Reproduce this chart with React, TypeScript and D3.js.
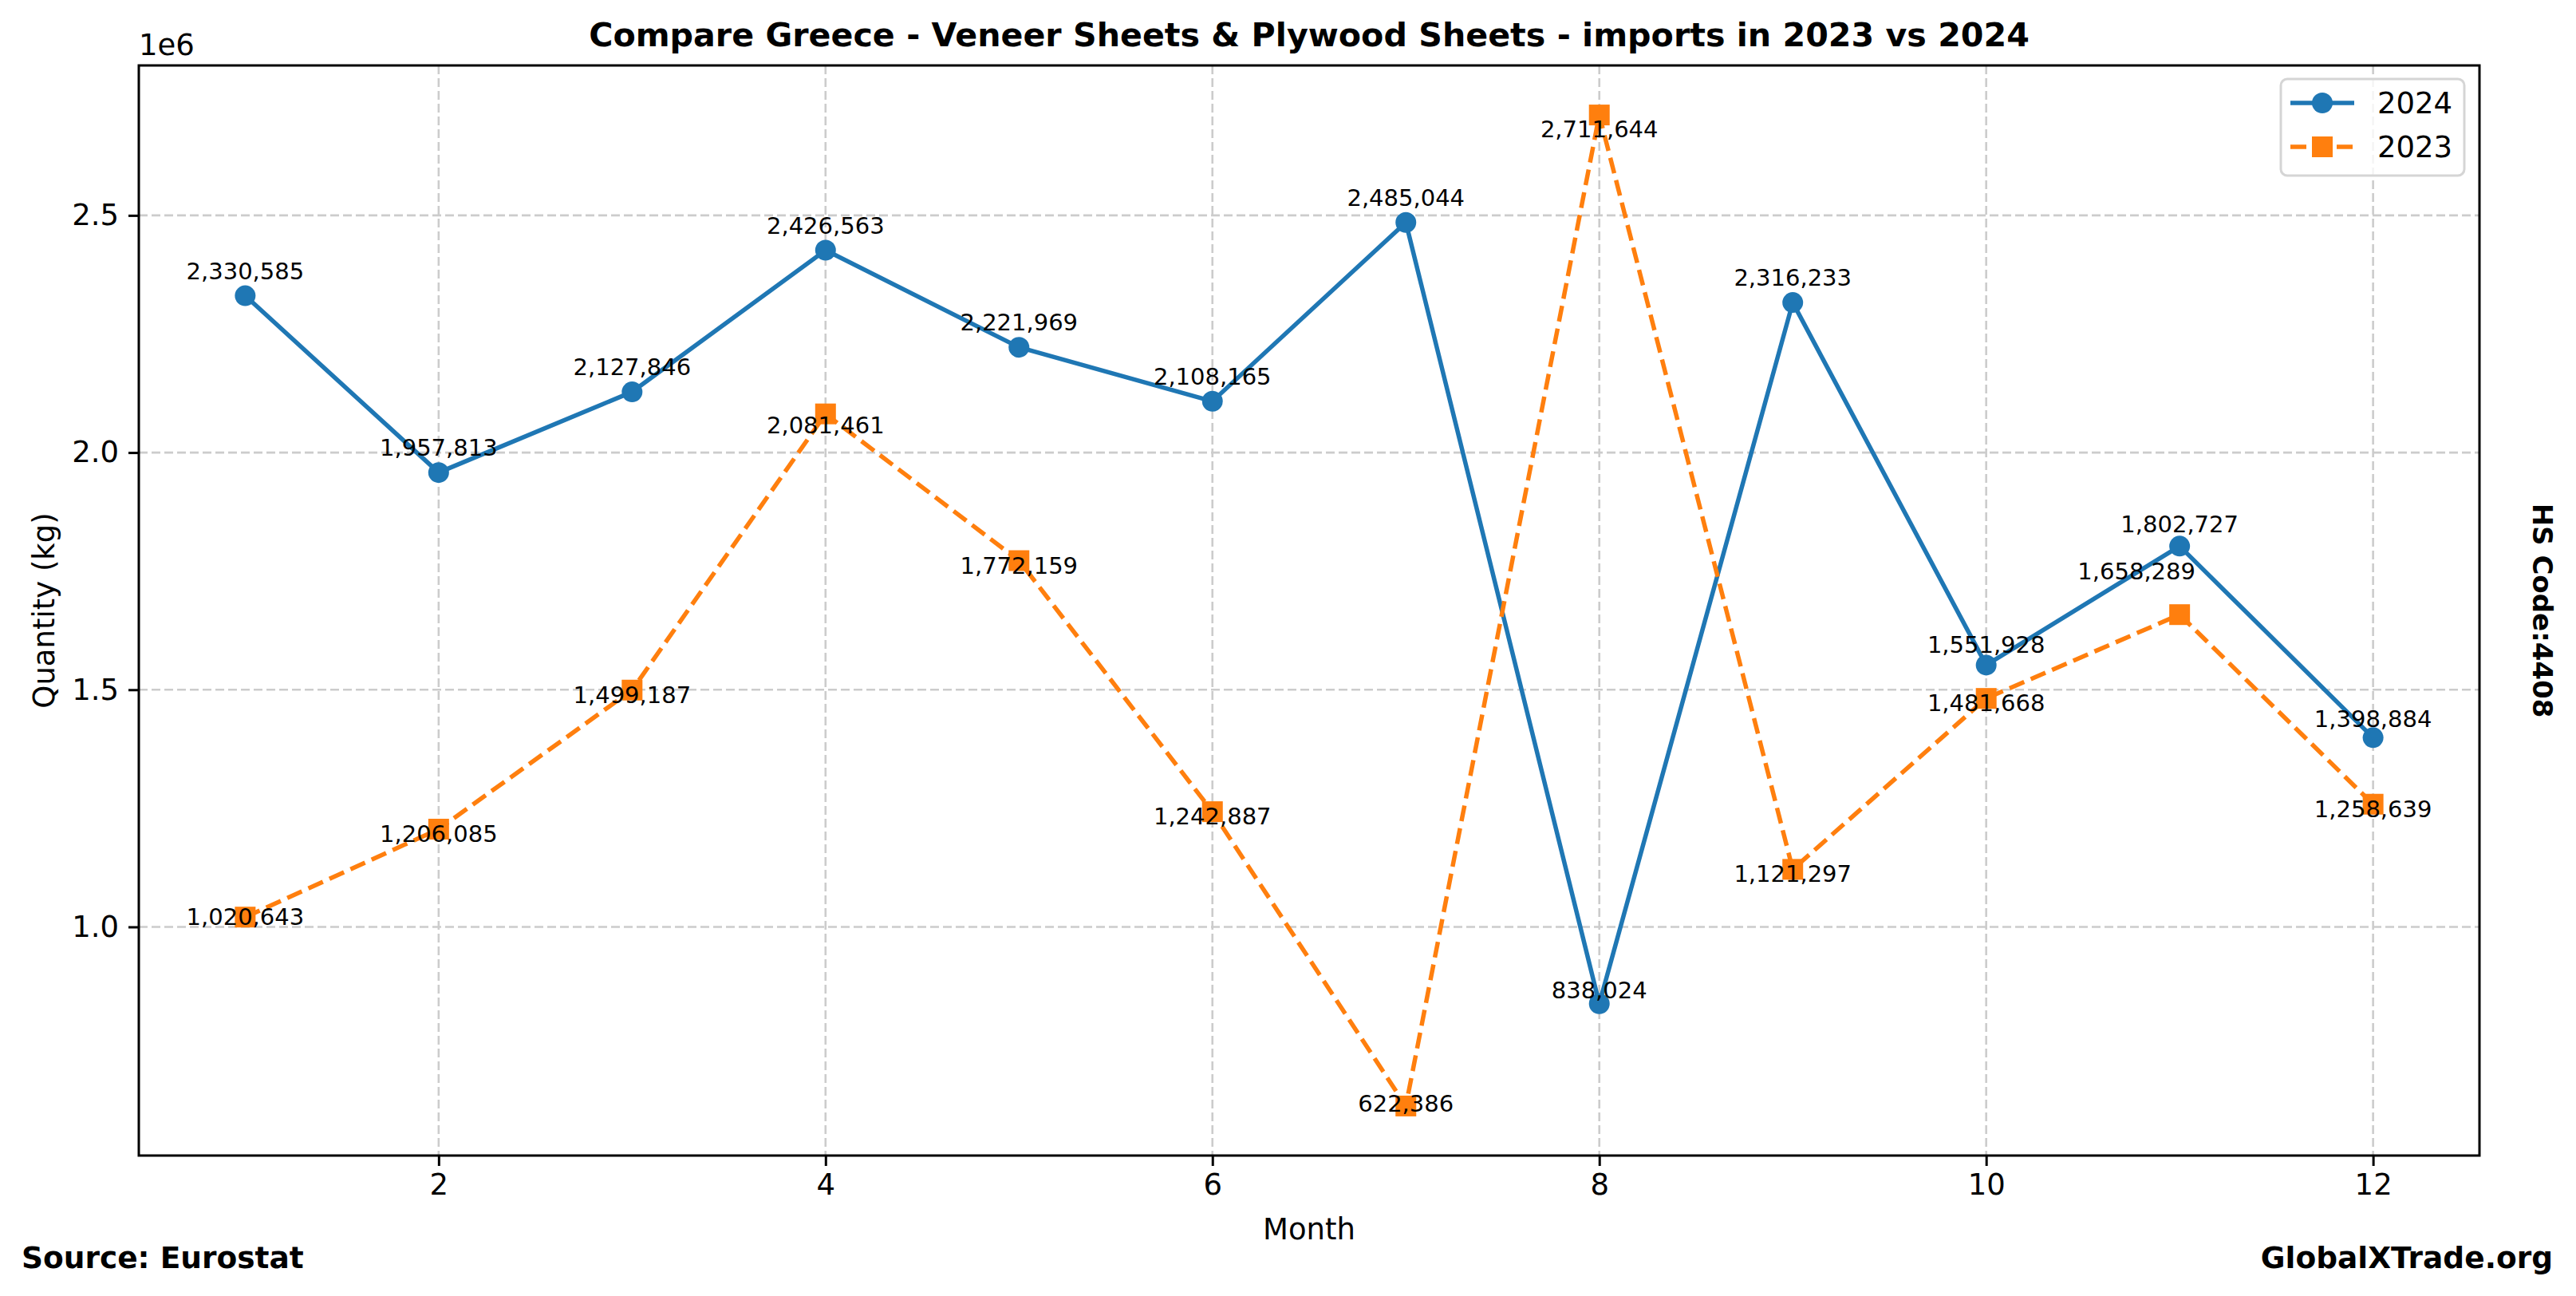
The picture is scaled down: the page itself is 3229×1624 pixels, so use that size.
import React, { useEffect, useRef } from 'react'
import * as d3 from 'd3'

// values
const months = [1, 2, 3, 4, 5, 6, 7, 8, 9, 10, 11, 12]
const values2024 = [2330585, 1957813, 2127846, 2426563, 2221969, 2108165, 2485044, 838024, 2316233, 1551928, 1802727, 1398884]
const values2023 = [1020643, 1206085, 1499187, 2081461, 1772159, 1242887, 622386, 2711644, 1121297, 1481668, 1658289, 1258639]
const xTicks = [2, 4, 6, 8, 10, 12]
const yTicks = [1.0e6, 1.5e6, 2.0e6, 2.5e6]

const W = 3229
const H = 1624
const FONT = "'DejaVu Sans', sans-serif"
const BLUE = '#1f77b4'
const ORANGE = '#ff7f0e'

// small label shifts (the original labels were pushed around a bit)
const nudges: Record<string, [number, number]> = {
  '2024-8': [0, 14],
  '2024-10': [0, 6],
  '2024-11': [0, 4],
  '2024-12': [0, 8],
  '2023-1': [0, -6],
  '2023-4': [0, 8],
  '2023-7': [0, -9],
  '2023-8': [0, 12],
  '2023-11': [-54, -60],
}

const App = () => {
  const ref = useRef<SVGSVGElement>(null)

  useEffect(() => {
    const svg = d3.select(ref.current)
    svg.selectAll('*').remove()

    const margin = { top: 82, right: W - 3108, bottom: H - 1448, left: 174 }

    const xPad = (d3.max(months)! - d3.min(months)!) * 0.05
    const x = d3.scaleLinear()
      .domain([d3.min(months)! - xPad, d3.max(months)! + xPad])
      .range([margin.left, W - margin.right])

    const all = values2024.concat(values2023)
    const yPad = (d3.max(all)! - d3.min(all)!) * 0.05
    const y = d3.scaleLinear()
      .domain([d3.min(all)! - yPad, d3.max(all)! + yPad])
      .range([H - margin.bottom, margin.top])

    svg.append('rect').attr('width', W).attr('height', H).attr('fill', 'white')

    // grid
    const grid = svg.append('g')
    grid.selectAll('.gx').data(xTicks).enter().append('line')
      .attr('x1', d => x(d)).attr('x2', d => x(d))
      .attr('y1', margin.top).attr('y2', H - margin.bottom)
    grid.selectAll('.gy').data(yTicks).enter().append('line')
      .attr('y1', d => y(d)).attr('y2', d => y(d))
      .attr('x1', margin.left).attr('x2', W - margin.right)
    grid.selectAll('line')
      .attr('stroke', '#cccccc')
      .attr('stroke-width', 2.6)
      .attr('stroke-dasharray', '11,5')

    // axes
    const xAxis = d3.axisBottom(x).tickValues(xTicks).tickSize(13).tickPadding(10).tickFormat(d3.format('d'))
    const yAxis = d3.axisLeft(y).tickValues(yTicks).tickSize(13).tickPadding(12).tickFormat(d => d3.format('.1f')(+d / 1e6))

    const gx = svg.append('g')
      .attr('transform', `translate(0,${H - margin.bottom})`)
      .call(xAxis)
    const gy = svg.append('g')
      .attr('transform', `translate(${margin.left},0)`)
      .call(yAxis)
    for (const g of [gx, gy]) {
      g.select('.domain').remove()
      g.selectAll('line').attr('stroke', 'black').attr('stroke-width', 3)
      g.selectAll('text').attr('font-family', FONT).attr('font-size', 37).attr('fill', 'black')
    }

    // series
    const line = d3.line<number>()
      .x((_, i) => x(months[i]))
      .y(d => y(d))

    svg.append('path')
      .datum(values2024)
      .attr('d', line)
      .attr('fill', 'none')
      .attr('stroke', BLUE)
      .attr('stroke-width', 5.5)
      .attr('stroke-linejoin', 'round')
    svg.selectAll('.dot24').data(values2024).enter().append('circle')
      .attr('cx', (_, i) => x(months[i]))
      .attr('cy', d => y(d))
      .attr('r', 13)
      .attr('fill', BLUE)

    svg.append('path')
      .datum(values2023)
      .attr('d', line)
      .attr('fill', 'none')
      .attr('stroke', ORANGE)
      .attr('stroke-width', 5.5)
      .attr('stroke-dasharray', '20,9')
    svg.selectAll('.sq23').data(values2023).enter().append('rect')
      .attr('x', (_, i) => x(months[i]) - 13)
      .attr('y', d => y(d) - 13)
      .attr('width', 26)
      .attr('height', 26)
      .attr('fill', ORANGE)

    // value labels
    const fmt = d3.format(',')
    const labels = (vals: number[], year: string, dy: number) => {
      svg.selectAll(`.lab${year}`).data(vals).enter().append('text')
        .attr('x', (_, i) => x(months[i]) + (nudges[`${year}-${months[i]}`] || [0, 0])[0])
        .attr('y', (d, i) => y(d) + dy + (nudges[`${year}-${months[i]}`] || [0, 0])[1])
        .attr('text-anchor', 'middle')
        .attr('font-family', FONT)
        .attr('font-size', 29)
        .attr('fill', 'black')
        .text(d => fmt(d))
    }
    labels(values2024, '2024', -21)
    labels(values2023, '2023', 16)

    // spines
    svg.append('rect')
      .attr('x', margin.left).attr('y', margin.top)
      .attr('width', W - margin.right - margin.left)
      .attr('height', H - margin.bottom - margin.top)
      .attr('fill', 'none')
      .attr('stroke', 'black')
      .attr('stroke-width', 3)

    // legend
    const lg = svg.append('g')
    lg.append('rect')
      .attr('x', 2859).attr('y', 99).attr('width', 230).attr('height', 121)
      .attr('rx', 8)
      .attr('fill', 'white').attr('fill-opacity', 0.8)
      .attr('stroke', '#d5d5d5').attr('stroke-width', 3)
    const entries = [
      { name: '2024', color: BLUE, dash: null, shape: 'circle' },
      { name: '2023', color: ORANGE, dash: '20,9', shape: 'square' },
    ]
    entries.forEach((e, i) => {
      const cy = 129 + i * 55
      lg.append('line')
        .attr('x1', 2871).attr('x2', 2951).attr('y1', cy).attr('y2', cy)
        .attr('stroke', e.color).attr('stroke-width', 5.5)
        .attr('stroke-dasharray', e.dash)
      if (e.shape === 'circle') {
        lg.append('circle').attr('cx', 2911).attr('cy', cy).attr('r', 13).attr('fill', e.color)
      } else {
        lg.append('rect').attr('x', 2898).attr('y', cy - 13).attr('width', 26).attr('height', 26).attr('fill', e.color)
      }
      lg.append('text')
        .attr('x', 2980).attr('y', cy + 13)
        .attr('font-family', FONT).attr('font-size', 37)
        .text(e.name)
    })

    // texts
    svg.append('text')
      .attr('x', (margin.left + W - margin.right) / 2).attr('y', 58)
      .attr('text-anchor', 'middle')
      .attr('font-family', FONT).attr('font-size', 41.2).attr('font-weight', 'bold')
      .text('Compare Greece - Veneer Sheets & Plywood Sheets - imports in 2023 vs 2024')
    svg.append('text')
      .attr('x', margin.left).attr('y', 69)
      .attr('font-family', FONT).attr('font-size', 37)
      .text('1e6')
    svg.append('text')
      .attr('x', (margin.left + W - margin.right) / 2).attr('y', 1553)
      .attr('text-anchor', 'middle')
      .attr('font-family', FONT).attr('font-size', 37)
      .text('Month')
    svg.append('text')
      .attr('transform', `translate(68,${(margin.top + H - margin.bottom) / 2}) rotate(-90)`)
      .attr('text-anchor', 'middle')
      .attr('font-family', FONT).attr('font-size', 37)
      .text('Quantity (kg)')
    svg.append('text')
      .attr('x', 27).attr('y', 1589)
      .attr('font-family', FONT).attr('font-size', 37.5).attr('font-weight', 'bold')
      .text('Source: Eurostat')
    svg.append('text')
      .attr('x', 3200).attr('y', 1589)
      .attr('text-anchor', 'end')
      .attr('font-family', FONT).attr('font-size', 37.5).attr('font-weight', 'bold')
      .text('GlobalXTrade.org')
    svg.append('text')
      .attr('transform', `translate(3175,${(margin.top + H - margin.bottom) / 2}) rotate(90)`)
      .attr('text-anchor', 'middle')
      .attr('font-family', FONT).attr('font-size', 34).attr('font-weight', 'bold')
      .text('HS Code:4408')
  }, [])

  return (
    <svg ref={ref} width={W} height={H} style={{ position: 'absolute', left: 0, top: 0, display: 'block' }} />
  )
}

export default App
